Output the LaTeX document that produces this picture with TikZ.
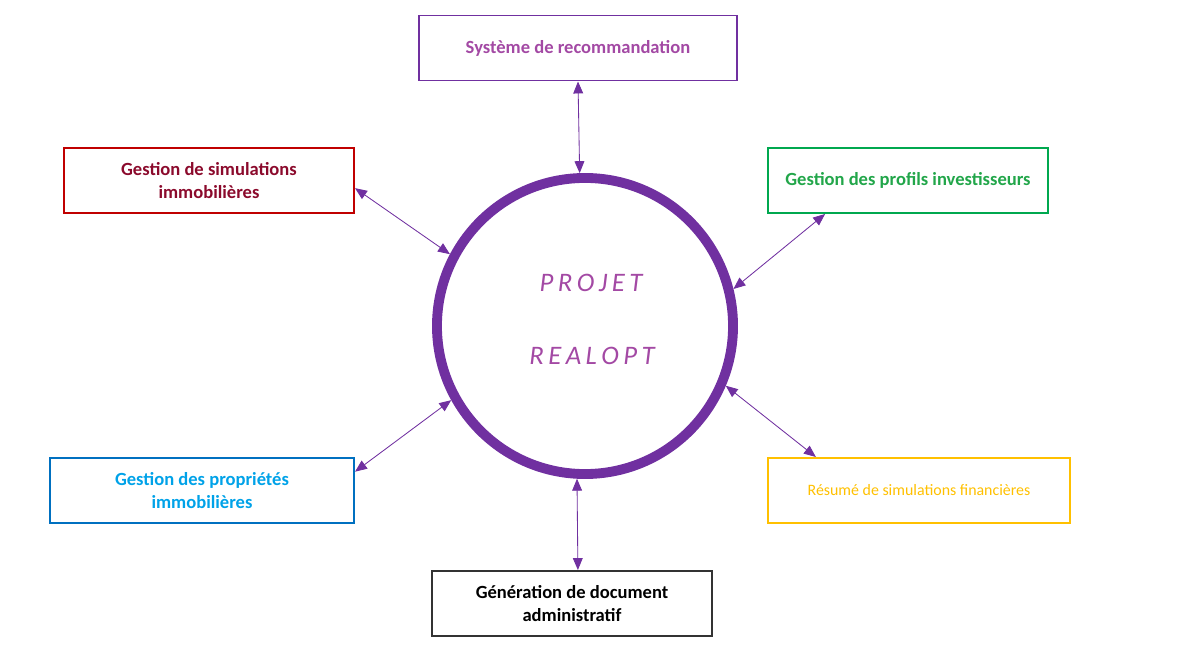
\documentclass[tikz,border=0pt]{standalone}
\usepackage{fontspec}
\setmainfont{Carlito}
\usetikzlibrary{arrows.meta}
\usetikzlibrary{positioning}
\definecolor{violet1}{HTML}{7030A0}
\definecolor{violettxt}{HTML}{A349A4}
\definecolor{rouge}{HTML}{C00000}
\definecolor{rougetxt}{HTML}{8B0A2C}
\definecolor{vert}{HTML}{00A84F}
\definecolor{verttxt}{HTML}{22A64A}
\definecolor{bleu}{HTML}{0070C0}
\definecolor{bleutxt}{HTML}{00A2E8}
\definecolor{jaune}{HTML}{FFC000}
\definecolor{gris}{HTML}{333333}

\begin{document}
\begin{tikzpicture}[x=0.025cm,y=-0.025cm,
  box/.style={draw,line width=1.4pt,align=center,minimum height=1.625cm,inner sep=2pt,font=\fontsize{13.2}{16.3}\selectfont\bfseries},
  lien/.style={violet1,line width=0.6pt,{Triangle[length=8.5pt,width=7pt]}-{Triangle[length=8.5pt,width=7pt]}},
  titre/.style={violettxt,font=\fontsize{19}{22}\selectfont\itshape}]
\useasboundingbox (0,0) rectangle (1178,662);
  \node[draw=violet1,circle,line width=7pt,minimum size=7.4cm,inner sep=0pt] (p) at (585,326){};
  \node[titre] (t1) at (591,283){P\,R\,O\,J\,E\,T};
  \node[titre] (t2) at (592,356){R\,E\,A\,L\,O\,P\,T};

\node[box,draw=violet1,text=violettxt,minimum width=7.95cm] (reco) at (578,48){Système de recommandation};
\node[box,draw=rouge,text=rougetxt,minimum width=7.25cm] (simu) at (209,180.5){Gestion de simulations\\immobilières};
\node[box,draw=vert,text=verttxt,minimum width=7cm] (prof) at (908,180.5){Gestion des profils investisseurs};
\node[box,draw=bleu,text=bleutxt,minimum width=7.6cm] (prop) at (202,490.5){Gestion des propriétés\\immobilières};
\node[box,draw=jaune,text=jaune,minimum width=7.55cm,font=\fontsize{11.3}{14}\selectfont] (resu) at (919,490.5){Résumé de simulations financières};
\node[box,draw=gris,text=black,minimum width=7cm] (gen) at (572,603.5){Génération de document\\administratif};

\draw[lien](reco.south)--(p.92.6);
\draw[lien](simu.-3)--(p.152.8);
\draw[lien](prof.202)--(p.14.7);
\draw[lien](prop.7)--(p.209.9);
\draw[lien](resu.162)--(p.-23.7);
\draw[lien](gen.80)--(p.267.4);
  \end{tikzpicture}
\end{document}
